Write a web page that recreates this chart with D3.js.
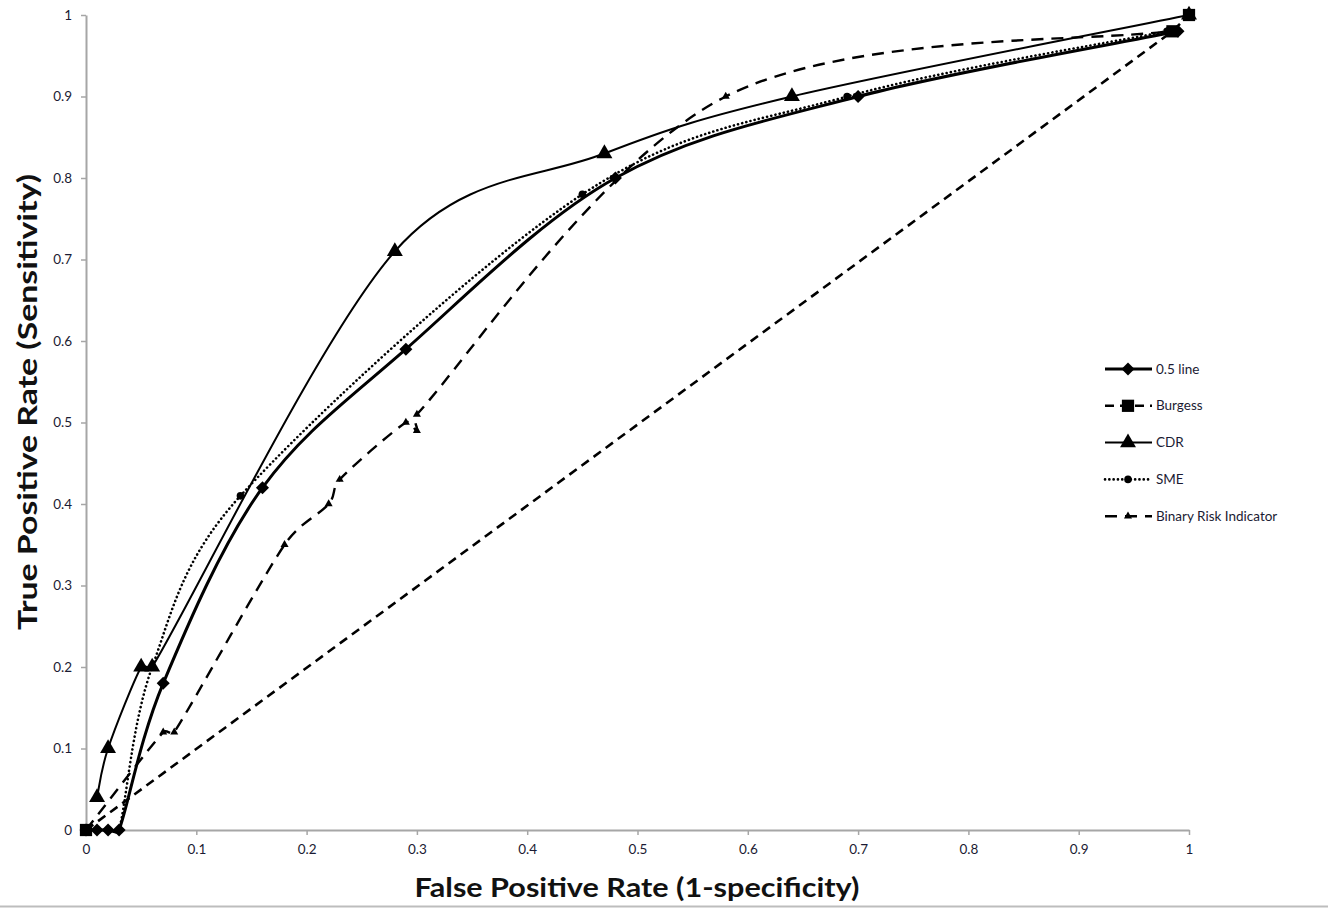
<!DOCTYPE html>
<html><head><meta charset="utf-8">
<script src="https://cdn.jsdelivr.net/npm/d3@7/dist/d3.min.js"></script>
<style>body{margin:0;background:#fff}svg{display:block}</style>
</head><body>
<svg id="c" width="1328" height="909"></svg>
<script>
const xTicks = [0,0.1,0.2,0.3,0.4,0.5,0.6,0.7,0.8,0.9,1];
const yTicks = [0,0.1,0.2,0.3,0.4,0.5,0.6,0.7,0.8,0.9,1];
const seriesNames = ["0.5 line","Burgess","CDR","SME","Binary Risk Indicator"];
const line05 = [[0,0],[0.01,0],[0.02,0],[0.03,0],[0.07,0.18],[0.16,0.42],[0.29,0.59],[0.48,0.80],[0.70,0.90],[0.99,0.98]];
const burgess = [[0,0],[0.985,0.98],[1,1]];
const cdr = [[0.01,0.04],[0.02,0.10],[0.05,0.20],[0.06,0.20],[0.28,0.71],[0.47,0.83],[0.64,0.90],[1,1]];
const sme = [[0,0],[0.01,0],[0.02,0],[0.03,0],[0.06,0.20],[0.14,0.41],[0.45,0.78],[0.69,0.90],[0.98,0.98]];
const binary = [[0,0],[0.07,0.12],[0.08,0.12],[0.18,0.35],[0.22,0.40],[0.23,0.43],[0.29,0.50],[0.30,0.49],[0.30,0.51],[0.58,0.90],[0.98,0.98]];

const svg = d3.select("#c");
const x = d3.scaleLinear().domain([0,1]).range([86,1189]);
const y = d3.scaleLinear().domain([0,1]).range([830,15]);
const FONT = "Lato, 'Open Sans', sans-serif";
const axisCol = "#a6a6a6";
const tickText = "#1b1b33";

svg.append("line").attr("x1",0).attr("x2",1328).attr("y1",906.5).attr("y2",906.5).attr("stroke","#bdbdbd").attr("stroke-width",2);

const gx = svg.append("g").attr("transform","translate(0,830)")
  .call(d3.axisBottom(x).tickValues(xTicks).tickSize(5).tickSizeOuter(0).tickFormat(d3.format("")));
const gy = svg.append("g").attr("transform","translate(86,0)")
  .call(d3.axisLeft(y).tickValues(yTicks).tickSize(5).tickSizeOuter(0).tickFormat(d3.format("")));
[gx,gy].forEach(g=>{
  g.select(".domain").attr("stroke",axisCol).attr("stroke-width",2);
  g.selectAll(".tick line").attr("stroke",axisCol).attr("stroke-width",1.5);
  g.selectAll(".tick text").attr("fill",tickText).attr("font-family",FONT).attr("font-size",13.5);
});
gx.selectAll(".tick text").attr("dy","1.2em");
gy.selectAll(".tick text").attr("x",-14);

svg.append("text").attr("x",637).attr("y",897).attr("text-anchor","middle")
  .attr("font-family",FONT).attr("font-weight","bold").attr("font-size",27).attr("fill","#111")
  .attr("textLength",445).attr("lengthAdjust","spacingAndGlyphs")
  .text("False Positive Rate (1-specificity)");
svg.append("text").attr("transform","translate(37,402) rotate(-90)").attr("text-anchor","middle")
  .attr("font-family",FONT).attr("font-weight","bold").attr("font-size",27).attr("fill","#111")
  .attr("textLength",456).attr("lengthAdjust","spacingAndGlyphs")
  .text("True Positive Rate (Sensitivity)");

// Spreadsheet-style smoothing: Catmull-Rom tangents (1/6), capped per segment to avoid loops
function SmoothCurve(context){ this._context = context; }
SmoothCurve.prototype = {
  areaStart(){}, areaEnd(){},
  lineStart(){ this._pts = []; },
  point(px,py){ this._pts.push([+px,+py]); },
  lineEnd(){
    const p = this._pts, c = this._context, n = p.length;
    if (!n) return;
    c.moveTo(p[0][0],p[0][1]);
    if (n === 1) return;
    const cap = (v, lim) => { const L = Math.hypot(v[0],v[1]); return L > lim && L > 0 ? [v[0]*lim/L, v[1]*lim/L] : v; };
    for (let i = 0; i < n-1; i++){
      const P0 = p[Math.max(i-1,0)], P1 = p[i], P2 = p[i+1], P3 = p[Math.min(i+2,n-1)];
      const seg = Math.hypot(P2[0]-P1[0], P2[1]-P1[1]);
      const t1 = cap([(P2[0]-P0[0])/6, (P2[1]-P0[1])/6], seg*0.45);
      const t2 = cap([(P3[0]-P1[0])/6, (P3[1]-P1[1])/6], seg*0.45);
      c.bezierCurveTo(P1[0]+t1[0], P1[1]+t1[1], P2[0]-t2[0], P2[1]-t2[1], P2[0], P2[1]);
    }
  }
};
const curveSmooth = ctx => new SmoothCurve(ctx);
const lineGen = d3.line().x(d=>x(d[0])).y(d=>y(d[1])).curve(curveSmooth);

const styles = {
  "0.5 line": {data: line05, width: 3, dash: null, marker: "diamond", msize: 85},
  "Burgess": {data: burgess, width: 2.6, dash: "9,6", marker: "square", msize: 150, straight:true},
  "CDR": {data: cdr, width: 2, dash: null, marker: "triangle", msize: 110},
  "SME": {data: sme, width: 2.6, dash: "0.1,4.2", cap:"round", marker: "circle", msize: 45},
  "Binary Risk Indicator": {data: binary, width: 2.4, dash: "12,8", marker: "triangle", msize: 28}
};
const symMap = {diamond: d3.symbolSquare, square: d3.symbolSquare, triangle: d3.symbolTriangle, circle: d3.symbolCircle};

const order = ["Burgess","Binary Risk Indicator","SME","0.5 line","CDR"];
order.forEach(name=>{
  const s = styles[name];
  const gen = s.straight ? d3.line().x(d=>x(d[0])).y(d=>y(d[1])) : lineGen;
  svg.append("path").attr("d",gen(s.data)).attr("fill","none").attr("stroke","#000")
    .attr("stroke-width",s.width).attr("stroke-dasharray",s.dash).attr("stroke-linecap",s.cap||"butt");
});
const rot = m => m==="diamond" ? " rotate(45)" : "";
order.forEach(name=>{
  const s = styles[name];
  svg.append("g").selectAll("path").data(s.data).join("path")
    .attr("transform",d=>`translate(${x(d[0])},${y(d[1])})${rot(s.marker)}`)
    .attr("d",d3.symbol().type(symMap[s.marker]).size(s.msize)).attr("fill","#000");
});

const lg = svg.append("g");
seriesNames.forEach((name,i)=>{
  const s = styles[name];
  const yy = 369 + i*36.8;
  lg.append("line").attr("x1",1105).attr("x2",1152).attr("y1",yy).attr("y2",yy)
    .attr("stroke","#000").attr("stroke-width",s.width).attr("stroke-dasharray",s.dash).attr("stroke-linecap",s.cap||"butt");
  lg.append("path").attr("transform",`translate(1128,${yy})${rot(s.marker)}`)
    .attr("d",d3.symbol().type(symMap[s.marker]).size(s.msize)).attr("fill","#000");
  lg.append("text").attr("x",1156).attr("y",yy+4.5).attr("font-family",FONT).attr("font-size",13.5)
    .attr("fill",tickText).text(name);
});
</script>
</body></html>
